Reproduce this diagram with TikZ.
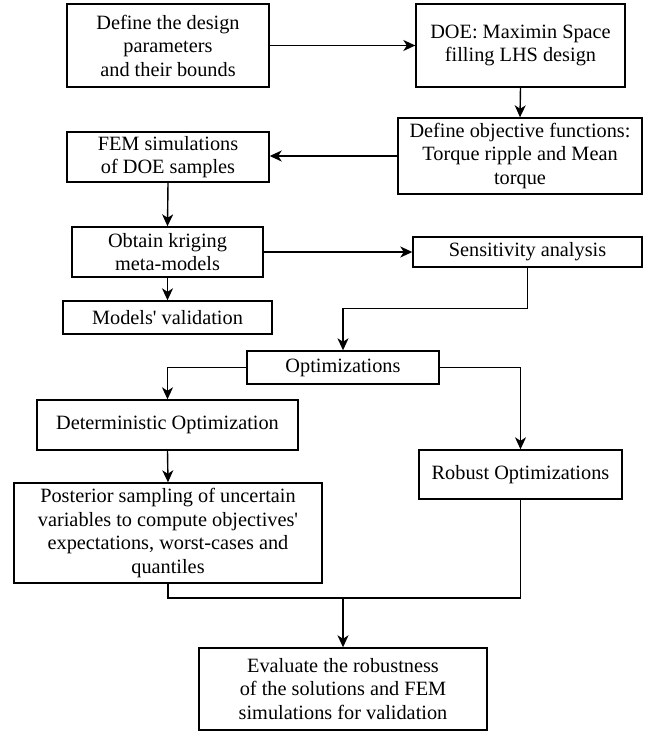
\documentclass[tikz,border=0pt]{standalone}
\usepackage{fontspec}
\setmainfont{Liberation Serif}
\usetikzlibrary{arrows.meta}
\begin{document}
\begin{tikzpicture}[x=1pt,y=-1pt,
  box/.style={draw=black,line width=1.4pt,rectangle,align=center,inner sep=0pt,
    font=\fontsize{20.3}{23.5}\selectfont},
  arr/.style={line width=1.4pt,-{Stealth[length=12pt,width=11pt,inset=3.5pt]}},
  ln/.style={line width=1.4pt}]
\useasboundingbox (0,0) rectangle (657,736);
\node[box,minimum width=202pt,minimum height=83pt] (def) at (168,45.5) {Define the design\\parameters\\and their bounds};
\node[box,minimum width=209pt,minimum height=83pt] (doe) at (520.5,45.5) {DOE: Maximin Space\\filling LHS design};
\node[box,minimum width=244pt,minimum height=76pt] (obj) at (520,156) {Define objective functions:\\Torque ripple and Mean\\torque};
\node[box,minimum width=202pt,minimum height=50pt] (fem) at (168,157) {FEM simulations\\of DOE samples};
\node[box,minimum width=191pt,minimum height=50pt] (krig) at (167.5,252) {Obtain kriging\\meta-models};
\node[box,minimum width=229pt,minimum height=30pt] (sens) at (527.5,252) {Sensitivity analysis};
\node[box,minimum width=209pt,minimum height=33pt] (val) at (167.5,317.5) {Models\textquotesingle{} validation};
\node[box,minimum width=192pt,minimum height=33pt] (opt) at (343,367.5) {Optimizations};
\node[box,minimum width=261pt,minimum height=50pt] (det) at (167.5,425) {Deterministic Optimization};
\node[box,minimum width=203pt,minimum height=49pt] (rob) at (520.5,474.5) {Robust Optimizations};
\node[box,minimum width=308pt,minimum height=100pt] (post) at (168,533) {Posterior sampling of uncertain\\variables to compute objectives\textquotesingle\\expectations, worst-cases and\\quantiles};
\node[box,minimum width=288pt,minimum height=82pt] (eval) at (343,689) {Evaluate the robustness\\of the solutions and FEM\\simulations for validation};
\coordinate (m) at (343,598);
\draw[arr] (def.east) -- (doe.west);
\draw[arr] (doe.south) -- (obj.north);
\draw[arr] (obj.west) -- (obj.west -| fem.east);
\draw[arr] (fem.south) -- (krig.north);
\draw[arr] (krig.south) -- (val.north);
\draw[arr] (krig.east) -- (sens.west);
\draw[arr] (sens.south) -- ++(0,41) -| (opt.north);
\draw[arr] (opt.west) -| (det.north);
\draw[arr] (opt.east) -| (rob.north);
\draw[arr] (det.south) -- (post.north);
\draw[ln] (post.south) |- (m);
\draw[ln] (rob.south) |- (m);
\draw[arr] (m) -- (eval.north);
\end{tikzpicture}
\end{document}
